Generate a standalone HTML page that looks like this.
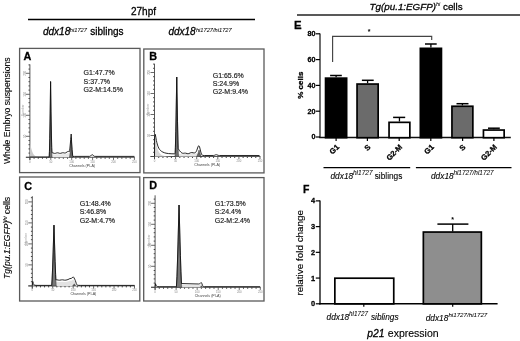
<!DOCTYPE html>
<html><head><meta charset="utf-8"><title>Figure</title>
<style>
html,body{margin:0;padding:0;background:#fff;}
body{width:520px;height:341px;overflow:hidden;}
svg{display:block;font-family:'Liberation Sans', Arial, sans-serif;}
text{stroke:#000;stroke-width:0.28px;}
text.tn{stroke:none;}
.sup{stroke-width:0.05px;}
</style></head>
<body>
<svg width="520" height="341" viewBox="0 0 520 341">
<rect x="0" y="0" width="520" height="341" fill="#fff"/>
<text x="131.0" y="15.2" font-size="10" font-weight="normal" font-style="normal" text-anchor="start" fill="#000" >27hpf</text>
<line x1="28" y1="19.4" x2="255" y2="19.4" stroke="#000" stroke-width="1.5" />
<text y="35.3" font-size="10" fill="#000"><tspan x="43.0" font-style="italic">ddx18</tspan><tspan x="69.8" dy="-3.5" font-size="5.7" font-style="italic" class="sup">hi1727</tspan><tspan x="90.2" dy="3.5">siblings</tspan></text>
<text y="35.3" font-size="10" fill="#000"><tspan x="168.4" font-style="italic">ddx18</tspan><tspan x="195.9" dy="-3.5" font-size="5.7" font-style="italic" class="sup">hi1727/hi1727</tspan></text>
<text transform="translate(10,164) rotate(-90)" font-size="8.6" fill="#000" style="stroke-width:0.1px">Whole Embryo suspensions</text>
<text transform="translate(10,279) rotate(-90)" font-size="8.6" fill="#000" style="stroke-width:0.1px"><tspan font-style="italic">Tg(pu.1:EGFP)</tspan><tspan dy="-3" font-size="5.5" font-style="italic" class="sup">hi</tspan><tspan dy="3"> cells</tspan></text>
<rect x="19.6" y="48.4" width="120.4" height="124.2" fill="none" stroke="#5a5a5a" stroke-width="1.3"/>
<rect x="143.8" y="49.0" width="120.2" height="123.9" fill="none" stroke="#5a5a5a" stroke-width="1.3"/>
<rect x="19.6" y="177.0" width="120.2" height="124.0" fill="none" stroke="#5a5a5a" stroke-width="1.3"/>
<rect x="143.7" y="177.6" width="120.3" height="123.4" fill="none" stroke="#5a5a5a" stroke-width="1.3"/>
<text x="23.4" y="60.0" font-size="10.8" font-weight="bold" font-style="normal" text-anchor="start" fill="#000" >A</text>
<text x="149.3" y="59.8" font-size="10.8" font-weight="bold" font-style="normal" text-anchor="start" fill="#000" >B</text>
<text x="24.3" y="190.0" font-size="10.8" font-weight="bold" font-style="normal" text-anchor="start" fill="#000" >C</text>
<text x="149.2" y="188.8" font-size="10.8" font-weight="bold" font-style="normal" text-anchor="start" fill="#000" >D</text>
<text x="83.6" y="75.3" font-size="7" font-weight="normal" font-style="normal" text-anchor="start" fill="#1a1a1a" style="stroke:#1a1a1a;stroke-width:0.16px">G1:47.7%</text>
<text x="83.6" y="83.5" font-size="7" font-weight="normal" font-style="normal" text-anchor="start" fill="#1a1a1a" style="stroke:#1a1a1a;stroke-width:0.16px">S:37.7%</text>
<text x="83.6" y="91.7" font-size="7" font-weight="normal" font-style="normal" text-anchor="start" fill="#1a1a1a" style="stroke:#1a1a1a;stroke-width:0.16px">G2-M:14.5%</text>
<text x="212.7" y="77.7" font-size="7" font-weight="normal" font-style="normal" text-anchor="start" fill="#1a1a1a" style="stroke:#1a1a1a;stroke-width:0.16px">G1:65.6%</text>
<text x="212.7" y="85.9" font-size="7" font-weight="normal" font-style="normal" text-anchor="start" fill="#1a1a1a" style="stroke:#1a1a1a;stroke-width:0.16px">S:24.9%</text>
<text x="212.7" y="94.1" font-size="7" font-weight="normal" font-style="normal" text-anchor="start" fill="#1a1a1a" style="stroke:#1a1a1a;stroke-width:0.16px">G2-M:9.4%</text>
<text x="79.7" y="206.1" font-size="7" font-weight="normal" font-style="normal" text-anchor="start" fill="#1a1a1a" style="stroke:#1a1a1a;stroke-width:0.16px">G1:48.4%</text>
<text x="79.7" y="214.3" font-size="7" font-weight="normal" font-style="normal" text-anchor="start" fill="#1a1a1a" style="stroke:#1a1a1a;stroke-width:0.16px">S:46.8%</text>
<text x="79.7" y="222.5" font-size="7" font-weight="normal" font-style="normal" text-anchor="start" fill="#1a1a1a" style="stroke:#1a1a1a;stroke-width:0.16px">G2-M:4.7%</text>
<text x="214.7" y="206.2" font-size="7" font-weight="normal" font-style="normal" text-anchor="start" fill="#1a1a1a" style="stroke:#1a1a1a;stroke-width:0.16px">G1:73.5%</text>
<text x="214.7" y="214.4" font-size="7" font-weight="normal" font-style="normal" text-anchor="start" fill="#1a1a1a" style="stroke:#1a1a1a;stroke-width:0.16px">S:24.4%</text>
<text x="214.7" y="222.6" font-size="7" font-weight="normal" font-style="normal" text-anchor="start" fill="#1a1a1a" style="stroke:#1a1a1a;stroke-width:0.16px">G2-M:2.4%</text>
<line x1="25.9" y1="157.3" x2="29.9" y2="157.3" stroke="#444" stroke-width="0.8" />
<line x1="28.5" y1="153.1" x2="29.9" y2="153.1" stroke="#444" stroke-width="1.0" />
<line x1="28.5" y1="148.9" x2="29.9" y2="148.9" stroke="#444" stroke-width="1.0" />
<line x1="28.5" y1="144.7" x2="29.9" y2="144.7" stroke="#444" stroke-width="1.0" />
<line x1="28.5" y1="140.5" x2="29.9" y2="140.5" stroke="#444" stroke-width="1.0" />
<line x1="25.9" y1="136.3" x2="29.9" y2="136.3" stroke="#444" stroke-width="0.8" />
<line x1="28.5" y1="132.1" x2="29.9" y2="132.1" stroke="#444" stroke-width="1.0" />
<line x1="28.5" y1="127.9" x2="29.9" y2="127.9" stroke="#444" stroke-width="1.0" />
<line x1="28.5" y1="123.7" x2="29.9" y2="123.7" stroke="#444" stroke-width="1.0" />
<line x1="28.5" y1="119.5" x2="29.9" y2="119.5" stroke="#444" stroke-width="1.0" />
<line x1="25.9" y1="115.3" x2="29.9" y2="115.3" stroke="#444" stroke-width="0.8" />
<line x1="28.5" y1="111.1" x2="29.9" y2="111.1" stroke="#444" stroke-width="1.0" />
<line x1="28.5" y1="106.9" x2="29.9" y2="106.9" stroke="#444" stroke-width="1.0" />
<line x1="28.5" y1="102.7" x2="29.9" y2="102.7" stroke="#444" stroke-width="1.0" />
<line x1="28.5" y1="98.5" x2="29.9" y2="98.5" stroke="#444" stroke-width="1.0" />
<line x1="25.9" y1="94.3" x2="29.9" y2="94.3" stroke="#444" stroke-width="0.8" />
<line x1="28.5" y1="90.1" x2="29.9" y2="90.1" stroke="#444" stroke-width="1.0" />
<line x1="28.5" y1="85.9" x2="29.9" y2="85.9" stroke="#444" stroke-width="1.0" />
<line x1="28.5" y1="81.7" x2="29.9" y2="81.7" stroke="#444" stroke-width="1.0" />
<line x1="28.5" y1="77.5" x2="29.9" y2="77.5" stroke="#444" stroke-width="1.0" />
<line x1="25.9" y1="73.3" x2="29.9" y2="73.3" stroke="#444" stroke-width="0.8" />
<line x1="28.5" y1="69.1" x2="29.9" y2="69.1" stroke="#444" stroke-width="1.0" />
<line x1="28.5" y1="64.9" x2="29.9" y2="64.9" stroke="#444" stroke-width="1.0" />
<text transform="translate(25.60,136.30) rotate(-90)" font-size="2.8" text-anchor="middle" fill="#888" class="tn">50</text>
<text transform="translate(25.60,115.30) rotate(-90)" font-size="2.8" text-anchor="middle" fill="#888" class="tn">100</text>
<text transform="translate(25.60,94.30) rotate(-90)" font-size="2.8" text-anchor="middle" fill="#888" class="tn">150</text>
<text transform="translate(25.60,73.30) rotate(-90)" font-size="2.8" text-anchor="middle" fill="#888" class="tn">200</text>
<text transform="translate(24.30,110.30) rotate(-90)" font-size="3.3" text-anchor="middle" fill="#999" class="tn">Number</text>
<line x1="29.9" y1="157.3" x2="29.9" y2="159.9" stroke="#444" stroke-width="0.8" />
<text x="29.9" y="162.70000000000002" font-size="2.8" font-weight="normal" font-style="normal" text-anchor="middle" fill="#888" class="tn">0</text>
<line x1="34.08" y1="157.3" x2="34.08" y2="158.8" stroke="#444" stroke-width="1.0" />
<line x1="38.26" y1="157.3" x2="38.26" y2="158.8" stroke="#444" stroke-width="1.0" />
<line x1="42.44" y1="157.3" x2="42.44" y2="158.8" stroke="#444" stroke-width="1.0" />
<line x1="46.62" y1="157.3" x2="46.62" y2="158.8" stroke="#444" stroke-width="1.0" />
<line x1="50.8" y1="157.3" x2="50.8" y2="159.9" stroke="#444" stroke-width="0.8" />
<text x="50.8" y="162.70000000000002" font-size="2.8" font-weight="normal" font-style="normal" text-anchor="middle" fill="#888" class="tn">50</text>
<line x1="54.98" y1="157.3" x2="54.98" y2="158.8" stroke="#444" stroke-width="1.0" />
<line x1="59.16" y1="157.3" x2="59.16" y2="158.8" stroke="#444" stroke-width="1.0" />
<line x1="63.34" y1="157.3" x2="63.34" y2="158.8" stroke="#444" stroke-width="1.0" />
<line x1="67.52" y1="157.3" x2="67.52" y2="158.8" stroke="#444" stroke-width="1.0" />
<line x1="71.7" y1="157.3" x2="71.7" y2="159.9" stroke="#444" stroke-width="0.8" />
<text x="71.7" y="162.70000000000002" font-size="2.8" font-weight="normal" font-style="normal" text-anchor="middle" fill="#888" class="tn">100</text>
<line x1="75.88" y1="157.3" x2="75.88" y2="158.8" stroke="#444" stroke-width="1.0" />
<line x1="80.06" y1="157.3" x2="80.06" y2="158.8" stroke="#444" stroke-width="1.0" />
<line x1="84.24" y1="157.3" x2="84.24" y2="158.8" stroke="#444" stroke-width="1.0" />
<line x1="88.42" y1="157.3" x2="88.42" y2="158.8" stroke="#444" stroke-width="1.0" />
<line x1="92.6" y1="157.3" x2="92.6" y2="159.9" stroke="#444" stroke-width="0.8" />
<text x="92.6" y="162.70000000000002" font-size="2.8" font-weight="normal" font-style="normal" text-anchor="middle" fill="#888" class="tn">150</text>
<line x1="96.78" y1="157.3" x2="96.78" y2="158.8" stroke="#444" stroke-width="1.0" />
<line x1="100.96" y1="157.3" x2="100.96" y2="158.8" stroke="#444" stroke-width="1.0" />
<line x1="105.14" y1="157.3" x2="105.14" y2="158.8" stroke="#444" stroke-width="1.0" />
<line x1="109.32" y1="157.3" x2="109.32" y2="158.8" stroke="#444" stroke-width="1.0" />
<line x1="113.5" y1="157.3" x2="113.5" y2="159.9" stroke="#444" stroke-width="0.8" />
<text x="113.5" y="162.70000000000002" font-size="2.8" font-weight="normal" font-style="normal" text-anchor="middle" fill="#888" class="tn">200</text>
<line x1="117.68" y1="157.3" x2="117.68" y2="158.8" stroke="#444" stroke-width="1.0" />
<line x1="121.86" y1="157.3" x2="121.86" y2="158.8" stroke="#444" stroke-width="1.0" />
<line x1="126.04" y1="157.3" x2="126.04" y2="158.8" stroke="#444" stroke-width="1.0" />
<line x1="130.22" y1="157.3" x2="130.22" y2="158.8" stroke="#444" stroke-width="1.0" />
<line x1="134.4" y1="157.3" x2="134.4" y2="159.9" stroke="#444" stroke-width="0.8" />
<text x="134.4" y="162.70000000000002" font-size="2.8" font-weight="normal" font-style="normal" text-anchor="middle" fill="#888" class="tn">250</text>
<text x="82.15" y="166.5" font-size="3.65" font-weight="normal" font-style="normal" text-anchor="middle" fill="#444" class="tn">Channels (PI-A)</text>
<line x1="25.9" y1="157.3" x2="134.8" y2="157.3" stroke="#444" stroke-width="0.9" />
<line x1="29.9" y1="64.4" x2="29.9" y2="159.9" stroke="#444" stroke-width="0.9" />
<path d="M29.90,157.30 L30.00,157.30 L30.11,141.92 L30.74,145.90 L31.36,148.86 L32.09,151.35 L32.93,153.31 L33.35,154.04 L33.87,154.76 L34.39,155.32 L34.92,155.76 L35.65,156.21 L36.38,156.53 L37.21,156.79 L38.26,156.99 L38.26,157.30 Z" fill="#cbcbcb" stroke="none"/>
<path d="M50.80,157.30 L50.80,156.66 L51.22,154.96 L51.43,154.48 L51.64,154.27 L51.84,154.19 L52.68,154.18 L54.14,154.52 L54.77,154.60 L55.40,154.55 L56.76,154.23 L57.38,154.15 L58.01,154.19 L59.37,154.52 L60.00,154.59 L60.73,154.53 L62.09,154.19 L62.71,154.10 L65.01,154.31 L65.85,154.11 L67.62,153.24 L68.04,153.13 L68.56,153.08 L69.61,153.24 L69.92,153.38 L70.13,153.59 L70.45,154.38 L70.86,156.22 L71.07,156.82 L71.28,157.11 L71.70,157.30 Z" fill="#e8e8e8" stroke="none"/>
<path d="M48.71,157.30 L49.13,157.30 L49.23,156.79 L49.55,148.32 L50.07,121.13 L50.59,82.00 L51.11,121.13 L51.64,148.32 L51.95,156.79 L52.05,157.30 L52.47,157.30 Z" fill="#707070" stroke="#333" stroke-width="0.5"/>
<path d="M69.19,157.30 L69.51,157.27 L69.61,156.89 L70.03,153.59 L70.45,148.58 L71.18,137.67 L71.70,146.21 L72.22,152.93 L72.64,156.55 L72.75,157.08 L72.85,157.30 L72.95,157.30 Z" fill="#666" stroke="#333" stroke-width="0.5"/>
<path d="M29.90,157.00 L49.13,157.00 L49.23,156.49 L49.44,151.67 L49.75,138.79 L50.17,113.85 L50.59,81.41 L51.01,111.90 L51.43,135.03 L51.74,147.57 L51.95,152.32 L52.05,152.81 L52.79,152.87 L54.14,153.30 L54.67,153.39 L55.40,153.34 L56.76,152.90 L57.49,152.80 L58.11,152.88 L59.58,153.34 L60.31,153.38 L62.61,152.75 L63.24,152.76 L64.59,153.02 L65.22,152.99 L65.95,152.69 L67.21,151.83 L67.83,151.50 L68.56,151.38 L69.40,151.52 L69.61,150.65 L69.92,148.05 L70.76,139.37 L71.18,134.04 L71.60,141.93 L72.12,149.73 L72.64,155.14 L72.85,156.33 L72.95,156.47 L74.42,156.40 L89.57,156.37 L90.09,156.26 L90.51,156.06 L91.76,154.78 L92.18,154.60 L92.60,154.78 L93.54,155.80 L93.96,156.12 L94.48,156.32 L95.11,156.39 L134.40,156.40" fill="none" stroke="#111" stroke-width="0.9" stroke-linejoin="round"/>
<line x1="150.5" y1="156.5" x2="154.5" y2="156.5" stroke="#444" stroke-width="0.8" />
<line x1="153.1" y1="152.3" x2="154.5" y2="152.3" stroke="#444" stroke-width="1.0" />
<line x1="153.1" y1="148.1" x2="154.5" y2="148.1" stroke="#444" stroke-width="1.0" />
<line x1="153.1" y1="143.9" x2="154.5" y2="143.9" stroke="#444" stroke-width="1.0" />
<line x1="153.1" y1="139.7" x2="154.5" y2="139.7" stroke="#444" stroke-width="1.0" />
<line x1="150.5" y1="135.5" x2="154.5" y2="135.5" stroke="#444" stroke-width="0.8" />
<line x1="153.1" y1="131.3" x2="154.5" y2="131.3" stroke="#444" stroke-width="1.0" />
<line x1="153.1" y1="127.1" x2="154.5" y2="127.1" stroke="#444" stroke-width="1.0" />
<line x1="153.1" y1="122.9" x2="154.5" y2="122.9" stroke="#444" stroke-width="1.0" />
<line x1="153.1" y1="118.7" x2="154.5" y2="118.7" stroke="#444" stroke-width="1.0" />
<line x1="150.5" y1="114.5" x2="154.5" y2="114.5" stroke="#444" stroke-width="0.8" />
<line x1="153.1" y1="110.3" x2="154.5" y2="110.3" stroke="#444" stroke-width="1.0" />
<line x1="153.1" y1="106.1" x2="154.5" y2="106.1" stroke="#444" stroke-width="1.0" />
<line x1="153.1" y1="101.9" x2="154.5" y2="101.9" stroke="#444" stroke-width="1.0" />
<line x1="153.1" y1="97.7" x2="154.5" y2="97.7" stroke="#444" stroke-width="1.0" />
<line x1="150.5" y1="93.5" x2="154.5" y2="93.5" stroke="#444" stroke-width="0.8" />
<line x1="153.1" y1="89.3" x2="154.5" y2="89.3" stroke="#444" stroke-width="1.0" />
<line x1="153.1" y1="85.1" x2="154.5" y2="85.1" stroke="#444" stroke-width="1.0" />
<line x1="153.1" y1="80.9" x2="154.5" y2="80.9" stroke="#444" stroke-width="1.0" />
<line x1="153.1" y1="76.7" x2="154.5" y2="76.7" stroke="#444" stroke-width="1.0" />
<line x1="150.5" y1="72.5" x2="154.5" y2="72.5" stroke="#444" stroke-width="0.8" />
<line x1="153.1" y1="68.3" x2="154.5" y2="68.3" stroke="#444" stroke-width="1.0" />
<line x1="153.1" y1="64.1" x2="154.5" y2="64.1" stroke="#444" stroke-width="1.0" />
<text transform="translate(150.20,135.50) rotate(-90)" font-size="2.8" text-anchor="middle" fill="#888" class="tn">50</text>
<text transform="translate(150.20,114.50) rotate(-90)" font-size="2.8" text-anchor="middle" fill="#888" class="tn">100</text>
<text transform="translate(150.20,93.50) rotate(-90)" font-size="2.8" text-anchor="middle" fill="#888" class="tn">150</text>
<text transform="translate(150.20,72.50) rotate(-90)" font-size="2.8" text-anchor="middle" fill="#888" class="tn">200</text>
<text transform="translate(148.90,109.50) rotate(-90)" font-size="3.3" text-anchor="middle" fill="#999" class="tn">Number</text>
<line x1="154.5" y1="156.5" x2="154.5" y2="159.1" stroke="#444" stroke-width="0.8" />
<text x="154.5" y="161.9" font-size="2.8" font-weight="normal" font-style="normal" text-anchor="middle" fill="#888" class="tn">0</text>
<line x1="158.72" y1="156.5" x2="158.72" y2="158.0" stroke="#444" stroke-width="1.0" />
<line x1="162.94" y1="156.5" x2="162.94" y2="158.0" stroke="#444" stroke-width="1.0" />
<line x1="167.16" y1="156.5" x2="167.16" y2="158.0" stroke="#444" stroke-width="1.0" />
<line x1="171.38" y1="156.5" x2="171.38" y2="158.0" stroke="#444" stroke-width="1.0" />
<line x1="175.6" y1="156.5" x2="175.6" y2="159.1" stroke="#444" stroke-width="0.8" />
<text x="175.6" y="161.9" font-size="2.8" font-weight="normal" font-style="normal" text-anchor="middle" fill="#888" class="tn">50</text>
<line x1="179.82" y1="156.5" x2="179.82" y2="158.0" stroke="#444" stroke-width="1.0" />
<line x1="184.04" y1="156.5" x2="184.04" y2="158.0" stroke="#444" stroke-width="1.0" />
<line x1="188.26" y1="156.5" x2="188.26" y2="158.0" stroke="#444" stroke-width="1.0" />
<line x1="192.48" y1="156.5" x2="192.48" y2="158.0" stroke="#444" stroke-width="1.0" />
<line x1="196.7" y1="156.5" x2="196.7" y2="159.1" stroke="#444" stroke-width="0.8" />
<text x="196.7" y="161.9" font-size="2.8" font-weight="normal" font-style="normal" text-anchor="middle" fill="#888" class="tn">100</text>
<line x1="200.92" y1="156.5" x2="200.92" y2="158.0" stroke="#444" stroke-width="1.0" />
<line x1="205.14" y1="156.5" x2="205.14" y2="158.0" stroke="#444" stroke-width="1.0" />
<line x1="209.36" y1="156.5" x2="209.36" y2="158.0" stroke="#444" stroke-width="1.0" />
<line x1="213.58" y1="156.5" x2="213.58" y2="158.0" stroke="#444" stroke-width="1.0" />
<line x1="217.8" y1="156.5" x2="217.8" y2="159.1" stroke="#444" stroke-width="0.8" />
<text x="217.8" y="161.9" font-size="2.8" font-weight="normal" font-style="normal" text-anchor="middle" fill="#888" class="tn">150</text>
<line x1="222.02" y1="156.5" x2="222.02" y2="158.0" stroke="#444" stroke-width="1.0" />
<line x1="226.24" y1="156.5" x2="226.24" y2="158.0" stroke="#444" stroke-width="1.0" />
<line x1="230.46" y1="156.5" x2="230.46" y2="158.0" stroke="#444" stroke-width="1.0" />
<line x1="234.68" y1="156.5" x2="234.68" y2="158.0" stroke="#444" stroke-width="1.0" />
<line x1="238.9" y1="156.5" x2="238.9" y2="159.1" stroke="#444" stroke-width="0.8" />
<text x="238.9" y="161.9" font-size="2.8" font-weight="normal" font-style="normal" text-anchor="middle" fill="#888" class="tn">200</text>
<line x1="243.12" y1="156.5" x2="243.12" y2="158.0" stroke="#444" stroke-width="1.0" />
<line x1="247.34" y1="156.5" x2="247.34" y2="158.0" stroke="#444" stroke-width="1.0" />
<line x1="251.56" y1="156.5" x2="251.56" y2="158.0" stroke="#444" stroke-width="1.0" />
<line x1="255.78" y1="156.5" x2="255.78" y2="158.0" stroke="#444" stroke-width="1.0" />
<line x1="260.0" y1="156.5" x2="260.0" y2="159.1" stroke="#444" stroke-width="0.8" />
<text x="260.0" y="161.9" font-size="2.8" font-weight="normal" font-style="normal" text-anchor="middle" fill="#888" class="tn">250</text>
<text x="207.25" y="165.7" font-size="3.65" font-weight="normal" font-style="normal" text-anchor="middle" fill="#444" class="tn">Channels (PI-A)</text>
<line x1="150.5" y1="156.5" x2="260.4" y2="156.5" stroke="#444" stroke-width="0.9" />
<line x1="154.5" y1="63.8" x2="154.5" y2="159.1" stroke="#444" stroke-width="0.9" />
<path d="M154.63,156.50 L154.71,139.39 L155.34,138.00 L155.76,140.84 L156.28,143.79 L156.81,146.18 L157.34,148.12 L157.86,149.69 L158.49,151.20 L159.22,152.54 L159.96,153.54 L160.80,154.38 L161.64,154.98 L162.59,155.46 L163.74,155.84 L165.00,156.10 L166.47,156.28 L171.30,156.50 Z" fill="#d6d6d6" stroke="none"/>
<path d="M175.50,156.50 L175.50,155.40 L175.81,154.75 L176.03,154.55 L178.86,153.98 L179.91,153.97 L181.59,154.34 L182.22,154.42 L182.95,154.37 L184.53,154.01 L185.26,153.93 L186.00,153.99 L187.47,154.29 L188.10,154.32 L188.94,154.17 L190.51,153.53 L191.25,153.36 L191.99,153.35 L193.45,153.60 L194.09,153.64 L194.72,153.58 L195.97,153.29 L196.50,153.24 L196.92,153.30 L197.34,153.55 L197.76,154.10 L198.50,155.50 L198.81,155.95 L199.23,156.28 L199.86,156.45 L199.86,156.50 Z" fill="#e6e6e6" stroke="none"/>
<path d="M174.66,156.50 L174.87,156.50 L174.97,156.14 L175.08,154.79 L175.29,150.22 L175.60,139.95 L176.13,115.70 L176.76,77.00 L177.39,115.70 L177.91,139.95 L178.23,150.22 L178.44,154.79 L178.54,156.14 L178.65,156.50 L178.86,156.50 Z" fill="#707070" stroke="#333" stroke-width="0.5"/>
<path d="M196.50,156.50 L196.71,156.50 L196.81,156.38 L197.44,155.03 L198.18,152.89 L199.02,150.00 L199.86,152.89 L200.59,155.03 L201.22,156.38 L201.33,156.50 L201.54,156.50 Z" fill="#666" stroke="#333" stroke-width="0.5"/>
<path d="M154.50,156.43 L154.60,137.31 L155.34,134.38 L156.39,140.49 L156.91,142.81 L157.54,145.07 L158.18,146.84 L158.81,148.21 L159.54,149.40 L160.38,150.38 L161.53,151.33 L162.90,152.12 L164.37,152.73 L166.05,153.19 L168.57,153.57 L171.93,153.79 L174.45,153.83 L174.87,153.72 L175.08,153.51 L175.19,152.77 L175.40,147.21 L175.81,131.22 L176.76,77.00 L177.50,121.18 L178.12,147.21 L178.23,148.59 L178.54,149.18 L179.59,150.73 L180.96,152.28 L181.80,152.95 L182.64,153.28 L183.27,153.32 L184.63,153.13 L185.37,153.13 L187.89,153.73 L188.84,153.59 L190.51,152.78 L191.25,152.56 L191.99,152.56 L193.88,152.92 L194.40,152.89 L194.93,152.75 L195.66,152.29 L196.29,151.47 L196.81,150.29 L197.97,146.85 L198.39,146.08 L198.81,145.76 L199.02,145.82 L199.23,146.07 L199.55,146.81 L200.81,152.03 L201.44,154.00 L201.75,154.61 L202.06,155.00 L202.49,155.29 L203.01,155.44 L204.27,155.50 L213.41,155.48 L214.35,155.34 L215.72,154.79 L216.24,154.70 L216.76,154.79 L218.24,155.37 L219.50,155.49 L259.50,155.50" fill="none" stroke="#111" stroke-width="0.9" stroke-linejoin="round"/>
<line x1="28.299999999999997" y1="285.9" x2="32.3" y2="285.9" stroke="#444" stroke-width="0.8" />
<line x1="30.9" y1="281.7" x2="32.3" y2="281.7" stroke="#444" stroke-width="1.0" />
<line x1="30.9" y1="277.5" x2="32.3" y2="277.5" stroke="#444" stroke-width="1.0" />
<line x1="30.9" y1="273.3" x2="32.3" y2="273.3" stroke="#444" stroke-width="1.0" />
<line x1="30.9" y1="269.1" x2="32.3" y2="269.1" stroke="#444" stroke-width="1.0" />
<line x1="28.299999999999997" y1="264.9" x2="32.3" y2="264.9" stroke="#444" stroke-width="0.8" />
<line x1="30.9" y1="260.7" x2="32.3" y2="260.7" stroke="#444" stroke-width="1.0" />
<line x1="30.9" y1="256.5" x2="32.3" y2="256.5" stroke="#444" stroke-width="1.0" />
<line x1="30.9" y1="252.3" x2="32.3" y2="252.3" stroke="#444" stroke-width="1.0" />
<line x1="30.9" y1="248.1" x2="32.3" y2="248.1" stroke="#444" stroke-width="1.0" />
<line x1="28.299999999999997" y1="243.9" x2="32.3" y2="243.9" stroke="#444" stroke-width="0.8" />
<line x1="30.9" y1="239.7" x2="32.3" y2="239.7" stroke="#444" stroke-width="1.0" />
<line x1="30.9" y1="235.5" x2="32.3" y2="235.5" stroke="#444" stroke-width="1.0" />
<line x1="30.9" y1="231.3" x2="32.3" y2="231.3" stroke="#444" stroke-width="1.0" />
<line x1="30.9" y1="227.1" x2="32.3" y2="227.1" stroke="#444" stroke-width="1.0" />
<line x1="28.299999999999997" y1="222.9" x2="32.3" y2="222.9" stroke="#444" stroke-width="0.8" />
<line x1="30.9" y1="218.7" x2="32.3" y2="218.7" stroke="#444" stroke-width="1.0" />
<line x1="30.9" y1="214.5" x2="32.3" y2="214.5" stroke="#444" stroke-width="1.0" />
<line x1="30.9" y1="210.3" x2="32.3" y2="210.3" stroke="#444" stroke-width="1.0" />
<line x1="30.9" y1="206.1" x2="32.3" y2="206.1" stroke="#444" stroke-width="1.0" />
<line x1="28.299999999999997" y1="201.9" x2="32.3" y2="201.9" stroke="#444" stroke-width="0.8" />
<line x1="30.9" y1="197.7" x2="32.3" y2="197.7" stroke="#444" stroke-width="1.0" />
<text transform="translate(28.00,264.90) rotate(-90)" font-size="2.8" text-anchor="middle" fill="#888" class="tn">50</text>
<text transform="translate(28.00,243.90) rotate(-90)" font-size="2.8" text-anchor="middle" fill="#888" class="tn">100</text>
<text transform="translate(28.00,222.90) rotate(-90)" font-size="2.8" text-anchor="middle" fill="#888" class="tn">150</text>
<text transform="translate(28.00,201.90) rotate(-90)" font-size="2.8" text-anchor="middle" fill="#888" class="tn">200</text>
<text transform="translate(26.70,238.90) rotate(-90)" font-size="3.3" text-anchor="middle" fill="#999" class="tn">Number</text>
<line x1="32.3" y1="285.9" x2="32.3" y2="288.5" stroke="#444" stroke-width="0.8" />
<text x="32.3" y="291.29999999999995" font-size="2.8" font-weight="normal" font-style="normal" text-anchor="middle" fill="#888" class="tn">0</text>
<line x1="36.39" y1="285.9" x2="36.39" y2="287.4" stroke="#444" stroke-width="1.0" />
<line x1="40.48" y1="285.9" x2="40.48" y2="287.4" stroke="#444" stroke-width="1.0" />
<line x1="44.56" y1="285.9" x2="44.56" y2="287.4" stroke="#444" stroke-width="1.0" />
<line x1="48.65" y1="285.9" x2="48.65" y2="287.4" stroke="#444" stroke-width="1.0" />
<line x1="52.74" y1="285.9" x2="52.74" y2="288.5" stroke="#444" stroke-width="0.8" />
<text x="52.74" y="291.29999999999995" font-size="2.8" font-weight="normal" font-style="normal" text-anchor="middle" fill="#888" class="tn">50</text>
<line x1="56.83" y1="285.9" x2="56.83" y2="287.4" stroke="#444" stroke-width="1.0" />
<line x1="60.92" y1="285.9" x2="60.92" y2="287.4" stroke="#444" stroke-width="1.0" />
<line x1="65.0" y1="285.9" x2="65.0" y2="287.4" stroke="#444" stroke-width="1.0" />
<line x1="69.09" y1="285.9" x2="69.09" y2="287.4" stroke="#444" stroke-width="1.0" />
<line x1="73.18" y1="285.9" x2="73.18" y2="288.5" stroke="#444" stroke-width="0.8" />
<text x="73.18" y="291.29999999999995" font-size="2.8" font-weight="normal" font-style="normal" text-anchor="middle" fill="#888" class="tn">100</text>
<line x1="77.27" y1="285.9" x2="77.27" y2="287.4" stroke="#444" stroke-width="1.0" />
<line x1="81.36" y1="285.9" x2="81.36" y2="287.4" stroke="#444" stroke-width="1.0" />
<line x1="85.44" y1="285.9" x2="85.44" y2="287.4" stroke="#444" stroke-width="1.0" />
<line x1="89.53" y1="285.9" x2="89.53" y2="287.4" stroke="#444" stroke-width="1.0" />
<line x1="93.62" y1="285.9" x2="93.62" y2="288.5" stroke="#444" stroke-width="0.8" />
<text x="93.62" y="291.29999999999995" font-size="2.8" font-weight="normal" font-style="normal" text-anchor="middle" fill="#888" class="tn">150</text>
<line x1="97.71" y1="285.9" x2="97.71" y2="287.4" stroke="#444" stroke-width="1.0" />
<line x1="101.8" y1="285.9" x2="101.8" y2="287.4" stroke="#444" stroke-width="1.0" />
<line x1="105.88" y1="285.9" x2="105.88" y2="287.4" stroke="#444" stroke-width="1.0" />
<line x1="109.97" y1="285.9" x2="109.97" y2="287.4" stroke="#444" stroke-width="1.0" />
<line x1="114.06" y1="285.9" x2="114.06" y2="288.5" stroke="#444" stroke-width="0.8" />
<text x="114.06" y="291.29999999999995" font-size="2.8" font-weight="normal" font-style="normal" text-anchor="middle" fill="#888" class="tn">200</text>
<line x1="118.15" y1="285.9" x2="118.15" y2="287.4" stroke="#444" stroke-width="1.0" />
<line x1="122.24" y1="285.9" x2="122.24" y2="287.4" stroke="#444" stroke-width="1.0" />
<line x1="126.32" y1="285.9" x2="126.32" y2="287.4" stroke="#444" stroke-width="1.0" />
<line x1="130.41" y1="285.9" x2="130.41" y2="287.4" stroke="#444" stroke-width="1.0" />
<line x1="134.5" y1="285.9" x2="134.5" y2="288.5" stroke="#444" stroke-width="0.8" />
<text x="134.5" y="291.29999999999995" font-size="2.8" font-weight="normal" font-style="normal" text-anchor="middle" fill="#888" class="tn">250</text>
<text x="83.4" y="295.09999999999997" font-size="3.65" font-weight="normal" font-style="normal" text-anchor="middle" fill="#444" class="tn">Channels (PI-A)</text>
<line x1="28.299999999999997" y1="285.9" x2="134.9" y2="285.9" stroke="#444" stroke-width="0.9" />
<line x1="32.3" y1="196.2" x2="32.3" y2="288.5" stroke="#444" stroke-width="0.9" />
<path d="M54.79,285.90 L54.79,285.42 L55.00,284.82 L55.51,282.54 L55.82,281.95 L56.12,281.76 L56.94,281.71 L58.78,281.96 L59.50,282.00 L62.36,281.70 L64.71,281.98 L65.94,281.94 L67.99,281.51 L69.93,280.78 L71.05,280.71 L71.46,280.63 L71.87,280.40 L72.79,279.66 L73.20,279.55 L73.51,279.66 L73.81,279.93 L74.63,281.09 L75.45,282.50 L76.47,284.75 L76.88,285.34 L77.29,285.65 L77.70,285.79 L79.33,285.90 Z" fill="#e2e2e2" stroke="none"/>
<path d="M51.52,285.90 L51.63,285.90 L51.73,285.63 L51.83,284.46 L52.44,272.27 L53.16,252.41 L53.98,225.10 L54.79,252.41 L55.51,272.27 L56.12,284.46 L56.23,285.63 L56.33,285.90 L56.43,285.90 Z" fill="#777" stroke="#333" stroke-width="0.5"/>
<path d="M71.97,285.90 L72.38,285.65 L72.89,285.15 L74.22,283.40 L75.55,285.15 L76.06,285.65 L76.47,285.90 Z" fill="#555" stroke="none"/>
<path d="M32.30,285.40 L32.81,281.53 L33.22,283.41 L33.63,284.38 L34.14,284.96 L34.96,285.28 L37.00,285.40 L51.73,285.40 L52.14,279.14 L52.65,267.07 L53.98,225.10 L55.10,261.47 L55.61,274.70 L55.82,279.14 L55.92,280.01 L56.23,279.85 L56.84,279.81 L58.78,280.15 L59.60,280.20 L61.65,279.85 L62.36,279.80 L64.71,280.18 L65.94,280.12 L67.99,279.55 L69.93,278.57 L71.05,278.48 L71.46,278.37 L71.87,278.07 L72.79,277.08 L73.20,276.93 L73.51,277.08 L73.81,277.44 L74.73,279.20 L75.35,280.60 L76.37,283.61 L76.78,284.50 L77.29,285.07 L77.60,285.22 L78.11,285.34 L80.36,285.40 L134.55,285.40" fill="none" stroke="#111" stroke-width="0.9" stroke-linejoin="round"/>
<line x1="151.1" y1="287.3" x2="155.1" y2="287.3" stroke="#444" stroke-width="0.8" />
<line x1="153.7" y1="283.1" x2="155.1" y2="283.1" stroke="#444" stroke-width="1.0" />
<line x1="153.7" y1="278.9" x2="155.1" y2="278.9" stroke="#444" stroke-width="1.0" />
<line x1="153.7" y1="274.7" x2="155.1" y2="274.7" stroke="#444" stroke-width="1.0" />
<line x1="153.7" y1="270.5" x2="155.1" y2="270.5" stroke="#444" stroke-width="1.0" />
<line x1="151.1" y1="266.3" x2="155.1" y2="266.3" stroke="#444" stroke-width="0.8" />
<line x1="153.7" y1="262.1" x2="155.1" y2="262.1" stroke="#444" stroke-width="1.0" />
<line x1="153.7" y1="257.9" x2="155.1" y2="257.9" stroke="#444" stroke-width="1.0" />
<line x1="153.7" y1="253.7" x2="155.1" y2="253.7" stroke="#444" stroke-width="1.0" />
<line x1="153.7" y1="249.5" x2="155.1" y2="249.5" stroke="#444" stroke-width="1.0" />
<line x1="151.1" y1="245.3" x2="155.1" y2="245.3" stroke="#444" stroke-width="0.8" />
<line x1="153.7" y1="241.1" x2="155.1" y2="241.1" stroke="#444" stroke-width="1.0" />
<line x1="153.7" y1="236.9" x2="155.1" y2="236.9" stroke="#444" stroke-width="1.0" />
<line x1="153.7" y1="232.7" x2="155.1" y2="232.7" stroke="#444" stroke-width="1.0" />
<line x1="153.7" y1="228.5" x2="155.1" y2="228.5" stroke="#444" stroke-width="1.0" />
<line x1="151.1" y1="224.3" x2="155.1" y2="224.3" stroke="#444" stroke-width="0.8" />
<line x1="153.7" y1="220.1" x2="155.1" y2="220.1" stroke="#444" stroke-width="1.0" />
<line x1="153.7" y1="215.9" x2="155.1" y2="215.9" stroke="#444" stroke-width="1.0" />
<line x1="153.7" y1="211.7" x2="155.1" y2="211.7" stroke="#444" stroke-width="1.0" />
<line x1="153.7" y1="207.5" x2="155.1" y2="207.5" stroke="#444" stroke-width="1.0" />
<line x1="151.1" y1="203.3" x2="155.1" y2="203.3" stroke="#444" stroke-width="0.8" />
<line x1="153.7" y1="199.1" x2="155.1" y2="199.1" stroke="#444" stroke-width="1.0" />
<text transform="translate(150.80,266.30) rotate(-90)" font-size="2.8" text-anchor="middle" fill="#888" class="tn">50</text>
<text transform="translate(150.80,245.30) rotate(-90)" font-size="2.8" text-anchor="middle" fill="#888" class="tn">100</text>
<text transform="translate(150.80,224.30) rotate(-90)" font-size="2.8" text-anchor="middle" fill="#888" class="tn">150</text>
<text transform="translate(150.80,203.30) rotate(-90)" font-size="2.8" text-anchor="middle" fill="#888" class="tn">200</text>
<text transform="translate(149.50,240.30) rotate(-90)" font-size="3.3" text-anchor="middle" fill="#999" class="tn">Number</text>
<line x1="155.1" y1="287.3" x2="155.1" y2="289.90000000000003" stroke="#444" stroke-width="0.8" />
<text x="155.1" y="292.7" font-size="2.8" font-weight="normal" font-style="normal" text-anchor="middle" fill="#888" class="tn">0</text>
<line x1="159.31" y1="287.3" x2="159.31" y2="288.8" stroke="#444" stroke-width="1.0" />
<line x1="163.52" y1="287.3" x2="163.52" y2="288.8" stroke="#444" stroke-width="1.0" />
<line x1="167.72" y1="287.3" x2="167.72" y2="288.8" stroke="#444" stroke-width="1.0" />
<line x1="171.93" y1="287.3" x2="171.93" y2="288.8" stroke="#444" stroke-width="1.0" />
<line x1="176.14" y1="287.3" x2="176.14" y2="289.90000000000003" stroke="#444" stroke-width="0.8" />
<text x="176.14" y="292.7" font-size="2.8" font-weight="normal" font-style="normal" text-anchor="middle" fill="#888" class="tn">50</text>
<line x1="180.35" y1="287.3" x2="180.35" y2="288.8" stroke="#444" stroke-width="1.0" />
<line x1="184.56" y1="287.3" x2="184.56" y2="288.8" stroke="#444" stroke-width="1.0" />
<line x1="188.76" y1="287.3" x2="188.76" y2="288.8" stroke="#444" stroke-width="1.0" />
<line x1="192.97" y1="287.3" x2="192.97" y2="288.8" stroke="#444" stroke-width="1.0" />
<line x1="197.18" y1="287.3" x2="197.18" y2="289.90000000000003" stroke="#444" stroke-width="0.8" />
<text x="197.18" y="292.7" font-size="2.8" font-weight="normal" font-style="normal" text-anchor="middle" fill="#888" class="tn">100</text>
<line x1="201.39" y1="287.3" x2="201.39" y2="288.8" stroke="#444" stroke-width="1.0" />
<line x1="205.6" y1="287.3" x2="205.6" y2="288.8" stroke="#444" stroke-width="1.0" />
<line x1="209.8" y1="287.3" x2="209.8" y2="288.8" stroke="#444" stroke-width="1.0" />
<line x1="214.01" y1="287.3" x2="214.01" y2="288.8" stroke="#444" stroke-width="1.0" />
<line x1="218.22" y1="287.3" x2="218.22" y2="289.90000000000003" stroke="#444" stroke-width="0.8" />
<text x="218.22" y="292.7" font-size="2.8" font-weight="normal" font-style="normal" text-anchor="middle" fill="#888" class="tn">150</text>
<line x1="222.43" y1="287.3" x2="222.43" y2="288.8" stroke="#444" stroke-width="1.0" />
<line x1="226.64" y1="287.3" x2="226.64" y2="288.8" stroke="#444" stroke-width="1.0" />
<line x1="230.84" y1="287.3" x2="230.84" y2="288.8" stroke="#444" stroke-width="1.0" />
<line x1="235.05" y1="287.3" x2="235.05" y2="288.8" stroke="#444" stroke-width="1.0" />
<line x1="239.26" y1="287.3" x2="239.26" y2="289.90000000000003" stroke="#444" stroke-width="0.8" />
<text x="239.26" y="292.7" font-size="2.8" font-weight="normal" font-style="normal" text-anchor="middle" fill="#888" class="tn">200</text>
<line x1="243.47" y1="287.3" x2="243.47" y2="288.8" stroke="#444" stroke-width="1.0" />
<line x1="247.68" y1="287.3" x2="247.68" y2="288.8" stroke="#444" stroke-width="1.0" />
<line x1="251.88" y1="287.3" x2="251.88" y2="288.8" stroke="#444" stroke-width="1.0" />
<line x1="256.09" y1="287.3" x2="256.09" y2="288.8" stroke="#444" stroke-width="1.0" />
<line x1="260.3" y1="287.3" x2="260.3" y2="289.90000000000003" stroke="#444" stroke-width="0.8" />
<text x="260.3" y="292.7" font-size="2.8" font-weight="normal" font-style="normal" text-anchor="middle" fill="#888" class="tn">250</text>
<text x="207.7" y="296.5" font-size="3.65" font-weight="normal" font-style="normal" text-anchor="middle" fill="#444" class="tn">Channels (PI-A)</text>
<line x1="151.1" y1="287.3" x2="260.7" y2="287.3" stroke="#444" stroke-width="0.9" />
<line x1="155.1" y1="195.3" x2="155.1" y2="289.90000000000003" stroke="#444" stroke-width="0.9" />
<path d="M180.30,287.30 L180.30,286.10 L180.41,285.81 L180.72,285.19 L180.93,285.03 L181.14,284.96 L198.78,285.28 L199.31,285.23 L199.72,285.09 L200.77,284.30 L201.09,284.19 L201.41,284.30 L201.62,284.53 L202.45,286.16 L202.88,286.78 L203.19,287.05 L203.82,287.25 L203.82,287.30 Z" fill="#e2e2e2" stroke="none"/>
<path d="M176.10,287.30 L176.31,287.30 L176.41,286.78 L176.52,285.35 L176.83,279.19 L177.25,268.43 L178.09,241.44 L179.04,205.00 L179.98,241.44 L180.82,268.43 L181.25,279.19 L181.56,285.35 L181.66,286.78 L181.77,287.30 L181.98,287.30 Z" fill="#777" stroke="#333" stroke-width="0.5"/>
<path d="M199.20,287.30 L199.51,287.27 L200.04,286.95 L200.77,286.29 L201.51,285.50 L202.25,286.29 L202.98,286.95 L203.50,287.27 L203.82,287.30 Z" fill="#555" stroke="none"/>
<path d="M155.10,286.70 L155.52,283.70 L155.94,285.16 L156.36,285.91 L156.88,286.36 L157.72,286.61 L159.82,286.70 L176.41,286.70 L176.94,276.72 L177.57,259.03 L179.04,205.00 L180.41,255.69 L180.93,271.33 L181.45,283.55 L198.78,284.01 L199.31,283.94 L199.72,283.75 L200.77,282.70 L200.98,282.57 L201.19,282.56 L201.41,282.70 L201.72,283.22 L202.56,285.43 L202.98,286.15 L203.50,286.55 L204.34,286.68 L260.10,286.70" fill="none" stroke="#111" stroke-width="0.9" stroke-linejoin="round"/>
<text y="9.7" font-size="9.8" fill="#000"><tspan x="369.6" font-style="italic">Tg(pu.1:EGFP)</tspan><tspan dy="-3.3" font-size="5.5" font-style="italic" class="sup">hi</tspan><tspan dy="3.3"> cells</tspan></text>
<line x1="297" y1="15.1" x2="520" y2="15.1" stroke="#222" stroke-width="1.5" />
<text x="294.0" y="29.2" font-size="11.4" font-weight="bold" font-style="normal" text-anchor="start" fill="#000" >E</text>
<line x1="320" y1="33.6" x2="320" y2="137.9" stroke="#555" stroke-width="1.7" />
<line x1="315.8" y1="137.0" x2="320" y2="137.0" stroke="#000" stroke-width="1.2" />
<text transform="translate(315.4,139.40) scale(0.9,1)" font-size="8" font-weight="bold" text-anchor="end" fill="#000">0</text>
<line x1="315.8" y1="111.2" x2="320" y2="111.2" stroke="#000" stroke-width="1.2" />
<text transform="translate(315.4,113.60) scale(0.9,1)" font-size="8" font-weight="bold" text-anchor="end" fill="#000">20</text>
<line x1="315.8" y1="85.4" x2="320" y2="85.4" stroke="#000" stroke-width="1.2" />
<text transform="translate(315.4,87.80) scale(0.9,1)" font-size="8" font-weight="bold" text-anchor="end" fill="#000">40</text>
<line x1="315.8" y1="59.6" x2="320" y2="59.6" stroke="#000" stroke-width="1.2" />
<text transform="translate(315.4,62.00) scale(0.9,1)" font-size="8" font-weight="bold" text-anchor="end" fill="#000">60</text>
<line x1="315.8" y1="33.8" x2="320" y2="33.8" stroke="#000" stroke-width="1.2" />
<text transform="translate(315.4,36.20) scale(0.9,1)" font-size="8" font-weight="bold" text-anchor="end" fill="#000">80</text>
<line x1="319.2" y1="137.6" x2="510.8" y2="137.6" stroke="#111" stroke-width="1.5" />
<text transform="translate(303.2,85.2) rotate(-90)" font-size="8" font-weight="bold" text-anchor="middle" fill="#000">% cells</text>
<line x1="336.1" y1="75.5" x2="336.1" y2="77.3" stroke="#000" stroke-width="1.3" />
<line x1="330.1" y1="75.5" x2="341.8" y2="75.5" stroke="#000" stroke-width="1.5" />
<rect x="325.55" y="78.15" width="21.10" height="59.55" fill="#000" stroke="#000" stroke-width="1.7"/>
<line x1="367.6" y1="80.3" x2="367.6" y2="83.2" stroke="#000" stroke-width="1.3" />
<line x1="361.9" y1="80.3" x2="373.7" y2="80.3" stroke="#000" stroke-width="1.5" />
<rect x="357.05" y="84.05" width="21.10" height="53.65" fill="#6b6b6b" stroke="#000" stroke-width="1.7"/>
<line x1="399.45" y1="117.4" x2="399.45" y2="121.5" stroke="#000" stroke-width="1.3" />
<line x1="393.1" y1="117.4" x2="405.2" y2="117.4" stroke="#000" stroke-width="1.5" />
<rect x="389.05" y="122.35" width="20.80" height="15.35" fill="#fff" stroke="#000" stroke-width="1.7"/>
<line x1="430.9" y1="44.0" x2="430.9" y2="47.5" stroke="#000" stroke-width="1.3" />
<line x1="425.0" y1="44.0" x2="436.7" y2="44.0" stroke="#000" stroke-width="1.5" />
<rect x="420.35" y="48.35" width="21.10" height="89.35" fill="#000" stroke="#000" stroke-width="1.7"/>
<line x1="462.4" y1="103.7" x2="462.4" y2="105.4" stroke="#000" stroke-width="1.3" />
<line x1="456.5" y1="103.7" x2="468.5" y2="103.7" stroke="#000" stroke-width="1.5" />
<rect x="451.95" y="106.25" width="20.90" height="31.45" fill="#6b6b6b" stroke="#000" stroke-width="1.7"/>
<line x1="493.8" y1="128.2" x2="493.8" y2="129.2" stroke="#000" stroke-width="1.3" />
<line x1="488.0" y1="128.2" x2="499.8" y2="128.2" stroke="#000" stroke-width="1.5" />
<rect x="483.45" y="130.05" width="20.70" height="7.65" fill="#fff" stroke="#000" stroke-width="1.7"/>
<line x1="336.1" y1="137.6" x2="336.1" y2="141.0" stroke="#000" stroke-width="1.2" />
<text transform="translate(339.70,147.6) rotate(-45)" font-size="7.6" font-weight="bold" text-anchor="end" fill="#000">G1</text>
<line x1="367.4" y1="137.6" x2="367.4" y2="141.0" stroke="#000" stroke-width="1.2" />
<text transform="translate(371.00,147.6) rotate(-45)" font-size="7.6" font-weight="bold" text-anchor="end" fill="#000">S</text>
<line x1="399.2" y1="137.6" x2="399.2" y2="141.0" stroke="#000" stroke-width="1.2" />
<text transform="translate(402.80,147.6) rotate(-45)" font-size="7.6" font-weight="bold" text-anchor="end" fill="#000">G2-M</text>
<line x1="430.8" y1="137.6" x2="430.8" y2="141.0" stroke="#000" stroke-width="1.2" />
<text transform="translate(434.40,147.6) rotate(-45)" font-size="7.6" font-weight="bold" text-anchor="end" fill="#000">G1</text>
<line x1="462.6" y1="137.6" x2="462.6" y2="141.0" stroke="#000" stroke-width="1.2" />
<text transform="translate(466.20,147.6) rotate(-45)" font-size="7.6" font-weight="bold" text-anchor="end" fill="#000">S</text>
<line x1="493.9" y1="137.6" x2="493.9" y2="141.0" stroke="#000" stroke-width="1.2" />
<text transform="translate(497.50,147.6) rotate(-45)" font-size="7.6" font-weight="bold" text-anchor="end" fill="#000">G2-M</text>
<path d="M332.6,62 L332.6,36.4 L431.7,36.4 L431.7,40" fill="none" stroke="#444" stroke-width="1.15"/>
<text x="369.2" y="33.5" font-size="7" font-weight="bold" font-style="normal" text-anchor="middle" fill="#000" class="tn">*</text>
<line x1="323.5" y1="167.6" x2="410.2" y2="167.6" stroke="#000" stroke-width="1.1" />
<line x1="415.9" y1="167.6" x2="511.5" y2="167.6" stroke="#000" stroke-width="1.1" />
<text y="179.1" font-size="8.3" fill="#000" style="stroke-width:0.1px"><tspan x="330.5" font-style="italic">ddx18</tspan><tspan x="353.0" dy="-4.2" font-size="6.5" font-style="italic" class="sup">hi1727</tspan><tspan x="374.7" dy="4.2">siblings</tspan></text>
<text y="178.8" font-size="8.3" fill="#000" style="stroke-width:0.1px"><tspan x="431.0" font-style="italic">ddx18</tspan><tspan x="453.4" dy="-4.2" font-size="6.4" font-style="italic" class="sup">hi1727/hi1727</tspan></text>
<text x="303.0" y="193.3" font-size="10.5" font-weight="bold" font-style="normal" text-anchor="start" fill="#000" >F</text>
<line x1="320" y1="200.4" x2="320" y2="304.5" stroke="#333" stroke-width="1.6" />
<line x1="315.8" y1="303.8" x2="320" y2="303.8" stroke="#000" stroke-width="1.2" />
<text x="315.2" y="306.40000000000003" font-size="7.4" font-weight="bold" font-style="normal" text-anchor="end" fill="#000" >0</text>
<line x1="315.8" y1="278.07" x2="320" y2="278.07" stroke="#000" stroke-width="1.2" />
<text x="315.2" y="280.67" font-size="7.4" font-weight="bold" font-style="normal" text-anchor="end" fill="#000" >1</text>
<line x1="315.8" y1="252.34" x2="320" y2="252.34" stroke="#000" stroke-width="1.2" />
<text x="315.2" y="254.94" font-size="7.4" font-weight="bold" font-style="normal" text-anchor="end" fill="#000" >2</text>
<line x1="315.8" y1="226.61" x2="320" y2="226.61" stroke="#000" stroke-width="1.2" />
<text x="315.2" y="229.21" font-size="7.4" font-weight="bold" font-style="normal" text-anchor="end" fill="#000" >3</text>
<line x1="315.8" y1="200.88" x2="320" y2="200.88" stroke="#000" stroke-width="1.2" />
<text x="315.2" y="203.48" font-size="7.4" font-weight="bold" font-style="normal" text-anchor="end" fill="#000" >4</text>
<line x1="319.2" y1="303.8" x2="497.6" y2="303.8" stroke="#000" stroke-width="1.6" />
<text transform="translate(303.4,252.8) rotate(-90)" font-size="9.9" text-anchor="middle" fill="#000" style="stroke-width:0.15px">relative fold change</text>
<rect x="334.85" y="278.20000000000005" width="58.90000000000002" height="25.65" fill="#fff" stroke="#000" stroke-width="1.7"/>
<line x1="452.7" y1="224.1" x2="452.7" y2="231.5" stroke="#000" stroke-width="1.3" />
<line x1="437.4" y1="224.1" x2="468.4" y2="224.1" stroke="#000" stroke-width="1.5" />
<rect x="423.35" y="232.04999999999998" width="57.999999999999986" height="71.80000000000004" fill="#8e8e8e" stroke="#000" stroke-width="1.7"/>
<text x="452.6" y="222.2" font-size="7" font-weight="bold" font-style="normal" text-anchor="middle" fill="#000" class="tn">*</text>
<line x1="363.8" y1="303.8" x2="363.8" y2="306.8" stroke="#000" stroke-width="1.2" />
<line x1="452.7" y1="303.8" x2="452.7" y2="306.8" stroke="#000" stroke-width="1.2" />
<text y="319.5" font-size="8.3" fill="#000" style="stroke-width:0.1px" font-style="italic"><tspan x="326.6">ddx18</tspan><tspan x="349.1" dy="-3.5" font-size="6.3" class="sup">hi1727</tspan><tspan x="370.9" dy="3.5">siblings</tspan></text>
<text y="320.9" font-size="8.3" fill="#000" style="stroke-width:0.1px" font-style="italic"><tspan x="425.7">ddx18</tspan><tspan x="448.4" dy="-4.0" font-size="6.2" class="sup">hi1727/hi1727</tspan></text>
<text y="337.2" font-size="10" fill="#000"><tspan x="367.2" font-style="italic" font-size="10.3" style="stroke-width:0.3px">p21</tspan><tspan x="387.8" font-size="10.5" style="stroke-width:0.12px">expression</tspan></text>
</svg>
</body></html>
